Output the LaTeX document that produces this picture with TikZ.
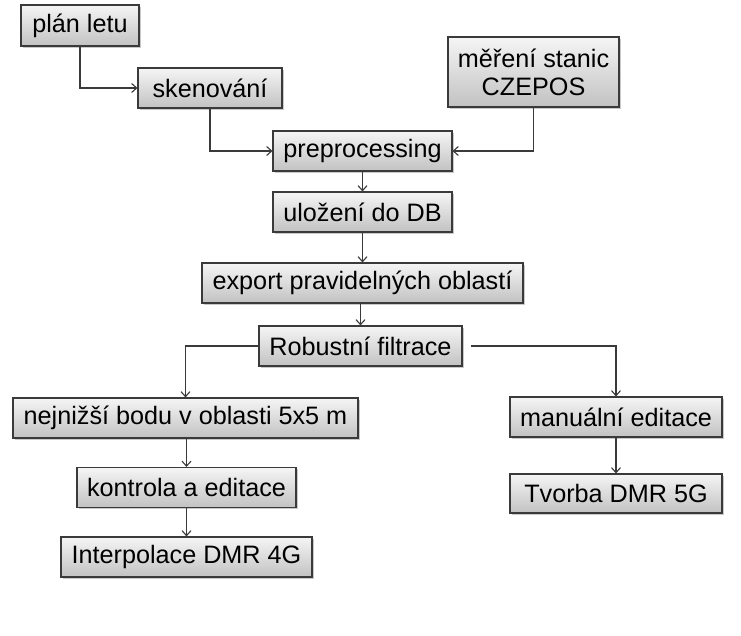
\documentclass[tikz,border=0pt]{standalone}
\usepackage{fontspec}
\setmainfont{Liberation Sans}
\usetikzlibrary{arrows.meta,shadows}
\definecolor{boxtop}{HTML}{F5F5F5}
\definecolor{boxbot}{HTML}{C2C2C2}
\definecolor{edgec}{HTML}{3A3A3A}
\begin{document}
\begin{tikzpicture}[x=1pt,y=-1pt,
  box/.style={draw=edgec, line width=1.1pt, top color=boxtop, bottom color=boxbot,
    inner sep=0pt, align=center, font=\fontsize{25.2}{28}\selectfont,
    drop shadow={shadow xshift=1.8pt, shadow yshift=-1.8pt, opacity=0.35, fill=black!60}},
  conn/.style={draw=edgec, line width=1.1pt, -{Straight Barb[length=5pt,width=9pt]}}]
\useasboundingbox (0,0) rectangle (741,635);
\fill[white] (0,0) rectangle (741,635);
\node[box, minimum width=118pt, minimum height=41pt] (plan) at (80,25.5) {plán letu};
\node[box, minimum width=144pt, minimum height=40pt] (sken) at (210,88) {skenování};
\node[box, minimum width=179pt, minimum height=40pt] (pre) at (362.5,151) {preprocessing};
\node[box, minimum width=171pt, minimum height=70pt] (mer) at (533.5,72) {měření stanic\\CZEPOS};
\node[box, minimum width=179pt, minimum height=40pt] (ulo) at (362.5,212) {uložení do DB};
\node[box, minimum width=321pt, minimum height=40pt] (exp) at (362.5,283) {export pravidelných oblastí};
\node[box, minimum width=203pt, minimum height=40pt] (rob) at (360.5,346) {Robustní filtrace};
\node[box, minimum width=345pt, minimum height=40pt] (nej) at (185.5,418) {nejnižší bodu v oblasti 5x5 m};
\node[box, minimum width=219pt, minimum height=40pt] (kon) at (186.5,487.5) {kontrola a editace};
\node[box, minimum width=251pt, minimum height=40pt] (int) at (186.5,557) {Interpolace DMR 4G};
\node[box, minimum width=212pt, minimum height=40pt] (man) at (616,417) {manuální editace};
\node[box, minimum width=212pt, minimum height=39pt] (tvo) at (616,493.5) {Tvorba DMR 5G};
\draw[conn] (plan.south) |- (sken.west);
\draw[conn] (sken.south) |- (pre.west);
\draw[conn] (mer.south) |- (pre.east);
\draw[conn] (pre) -- (ulo);
\draw[conn] (ulo) -- (exp);
\draw[conn] (exp.south -| rob) -- (rob);
\draw[conn] (rob.west) -| (nej.north);
\draw[conn] ([xshift=8pt]rob.east) -| (man.north);
\draw[conn] (nej.south -| kon) -- (kon);
\draw[conn] (kon) -- (int);
\draw[conn] (man) -- (tvo);
\end{tikzpicture}
\end{document}
